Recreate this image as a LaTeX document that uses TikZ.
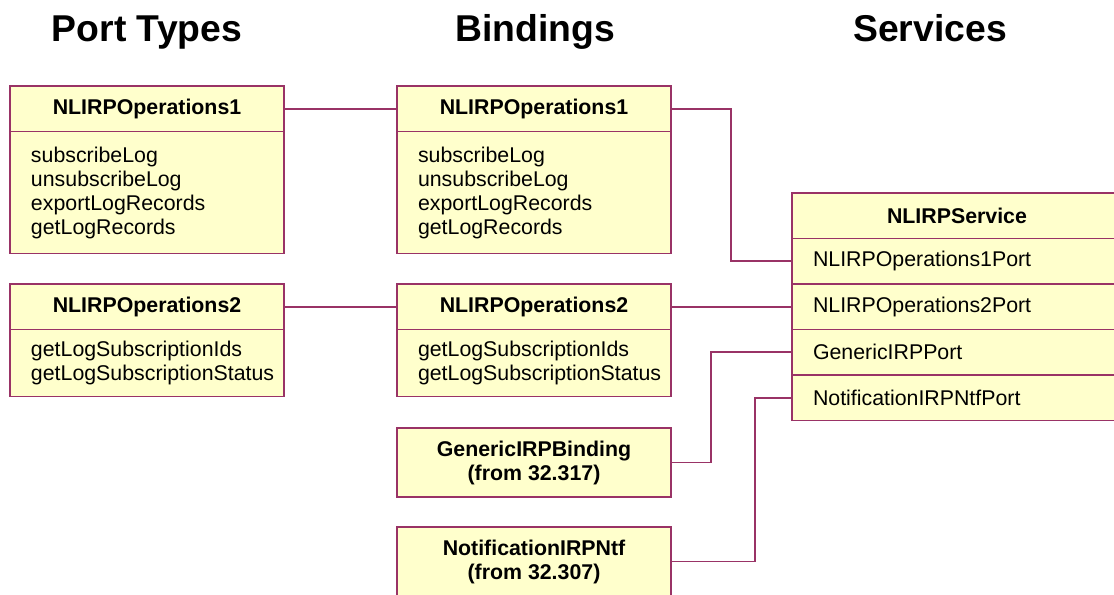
\documentclass[tikz,border=0pt]{standalone}
\usepackage{fontspec}
\setmainfont{Liberation Sans}
\usetikzlibrary{positioning}
\definecolor{roseline}{HTML}{993366}
\definecolor{rosefill}{HTML}{FFFFCC}
\begin{document}
\begin{tikzpicture}[x=0.75pt,y=-0.75pt,
		every node/.style={font=\fontsize{16}{18}\selectfont},
		coltitle/.style={font=\fontsize{28}{32}\selectfont\bfseries,anchor=base},
		umlbox/.style={draw=roseline,fill=rosefill,line width=1.4pt,inner sep=0pt,outer sep=0pt,minimum width=274*0.75pt},
		hdr/.style={umlbox,font=\fontsize{16}{18}\selectfont\bfseries,minimum height=45.5*0.75pt},
		ops/.style={umlbox,align=left,text width=232*0.75pt},
		srvrow/.style={umlbox,minimum width=330*0.75pt,minimum height=45.5*0.75pt},
		wire/.style={draw=roseline,line width=1.3pt}]
		
		\useasboundingbox (0,0) rectangle (1114,594);
		
		\node[coltitle] (tports) at (147,41) {Port Types};
		\node[coltitle] (tbinds) at (535,41) {Bindings};
		\node[coltitle] (tservs) at (930,41) {Services};
		
		% port types
		\node[hdr,anchor=north west] (pt1h) at (10,86) {NLIRPOperations1};
		\node[ops,below=0pt of pt1h,minimum height=122*0.75pt] (pt1b) {subscribeLog\\unsubscribeLog\\exportLogRecords\\getLogRecords};
		\node[hdr,anchor=north west] (pt2h) at (10,284) {NLIRPOperations2};
		\node[ops,below=0pt of pt2h,minimum height=67*0.75pt] (pt2b) {getLogSubscriptionIds\\getLogSubscriptionStatus};
		
		% bindings
		\node[hdr,anchor=north west] (bd1h) at (397,86) {NLIRPOperations1};
		\node[ops,below=0pt of bd1h,minimum height=122*0.75pt] (bd1b) {subscribeLog\\unsubscribeLog\\exportLogRecords\\getLogRecords};
		\node[hdr,anchor=north west] (bd2h) at (397,284) {NLIRPOperations2};
		\node[ops,below=0pt of bd2h,minimum height=67*0.75pt] (bd2b) {getLogSubscriptionIds\\getLogSubscriptionStatus};
		\node[hdr,anchor=north west,align=center,minimum height=69*0.75pt] (gen) at (397,428) {GenericIRPBinding\\(from 32.317)};
		\node[hdr,anchor=north west,align=center,minimum height=69*0.75pt] (ntf) at (397,527) {NotificationIRPNtf\\(from 32.307)};
		
		% service
		\node[srvrow,anchor=north west,font=\fontsize{16}{18}\selectfont\bfseries] (svh) at (792,193) {NLIRPService};
		\node[srvrow,below=0pt of svh,align=left,text width=288*0.75pt] (sv1) {NLIRPOperations1Port};
		\node[srvrow,below=0pt of sv1,align=left,text width=288*0.75pt] (sv2) {NLIRPOperations2Port};
		\node[srvrow,below=0pt of sv2,align=left,text width=288*0.75pt] (sv3) {GenericIRPPort};
		\node[srvrow,below=0pt of sv3,align=left,text width=288*0.75pt] (sv4) {NotificationIRPNtfPort};
		
		\draw[wire] (pt1h) -- (bd1h);
		\draw[wire] (pt2h) -- (bd2h);
		\draw[wire] (bd1h.east) -- ++(60,0) |- (sv1.west);
		\draw[wire] (bd2h.east) -- (bd2h.east -| sv2.west);
		\draw[wire] (gen.east) -- ++(40,0) |- (sv3.west);
		\draw[wire] (ntf.east) -- ++(84,0) |- (sv4.west);
		\end{tikzpicture}
\end{document}
